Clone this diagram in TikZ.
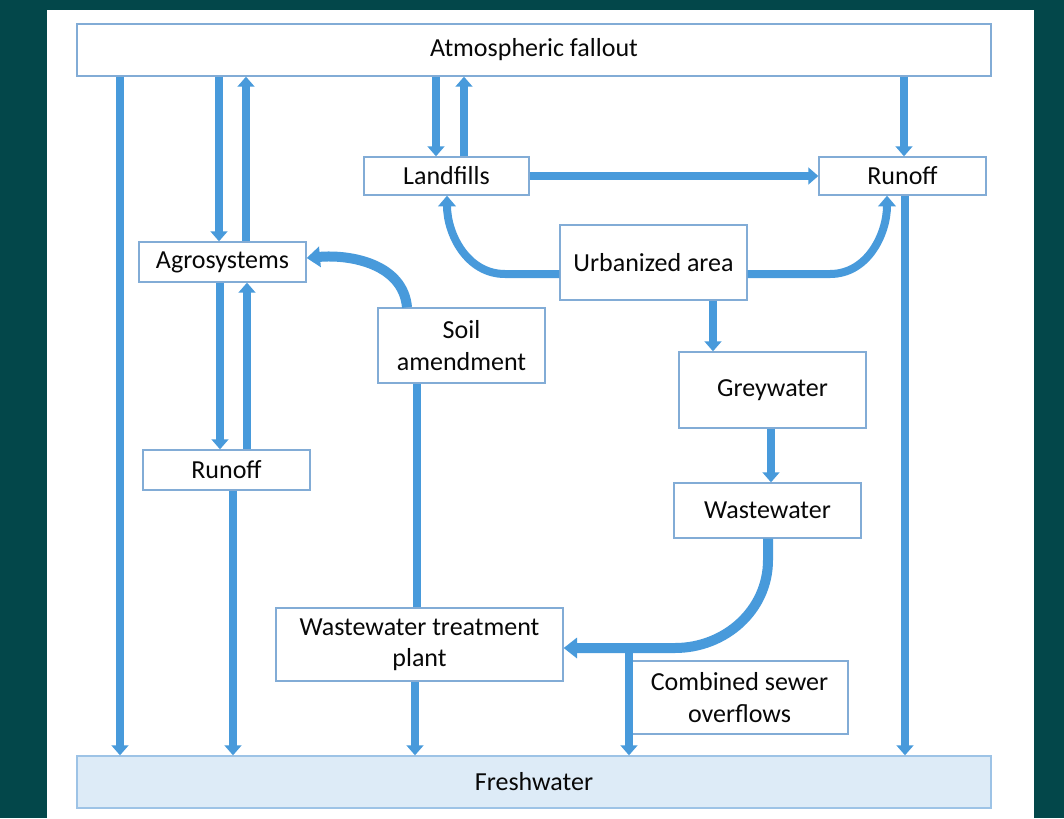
\documentclass[tikz,border=0pt]{standalone}
\usepackage{fontspec}
\setmainfont{Carlito}
\usetikzlibrary{arrows.meta}
\definecolor{teal0}{RGB}{3,71,74}
\definecolor{flowc}{RGB}{72,154,219}
\definecolor{boxc}{RGB}{130,172,214}
\definecolor{freshfill}{RGB}{221,235,247}
\definecolor{freshdraw}{RGB}{157,195,230}
\definecolor{textc}{RGB}{8,8,8}
\tikzset{
  box/.style={draw=boxc, line width=1pt, fill=white, inner sep=0pt, align=center,
    font=\fontsize{19.5}{23.4}\selectfont, text=textc},
  flow/.style={draw=flowc, line width=5.5pt, -{Triangle[width=12.5pt,length=7.5pt]}},
  flowline/.style={draw=flowc, line width=5.5pt},
  bigflow/.style={draw=flowc, line width=7.5pt, -{Triangle[width=15pt,length=10pt]}},
  midflow/.style={draw=flowc, line width=6pt, -{Triangle[width=13pt,length=8pt]}}
}
\begin{document}
\begin{tikzpicture}[x=0.75pt,y=-0.75pt]
\useasboundingbox (0,0) rectangle (1064,818);
\fill[teal0] (0,0) rectangle (1064,818);
\fill[white] (47,10) rectangle (1034,818);

% nodes
\node[box, minimum width=685.5pt, minimum height=39pt] (atm) at (534,50) {Atmospheric fallout};
\node[box, fill=freshfill, draw=freshdraw, minimum width=685.5pt, minimum height=39pt] (fresh) at (534,782) {Freshwater};
\node[box, minimum width=123.75pt, minimum height=28.5pt] (land) at (446.5,176) {Landfills};
\node[box, minimum width=125.25pt, minimum height=28.5pt] (runR) at (902.5,176) {Runoff};
\node[box, minimum width=140.25pt, minimum height=56.25pt] (urb) at (653.5,262.5) {Urbanized area};
\node[box, minimum width=125.25pt, minimum height=30pt] (agro) at (222.5,262) {Agrosystems};
\node[box, minimum width=125.25pt, minimum height=30pt] (runL) at (226.5,470) {Runoff};
\node[box, minimum width=125.25pt, minimum height=56.25pt] (soil) at (461.5,345.5) {Soil\\amendment};
\node[box, minimum width=140.25pt, minimum height=57pt] (grey) at (772.5,390) {Greywater};
\node[box, minimum width=140.25pt, minimum height=41.25pt] (waste) at (767.5,510.5) {Wastewater};
\node[box, minimum width=215.25pt, minimum height=54.75pt] (wwtp) at (419.5,644.5) {Wastewater treatment\\plant};
\node[box, minimum width=162.75pt, minimum height=54.75pt] (cso) at (739.5,697.5) {Combined sewer\\overflows};

% connectors from atmospheric fallout
\draw[flow] (120,0 |- atm.south) -- (120,0 |- fresh.north);
\draw[flow] (219,0 |- atm.south) -- (219,0 |- agro.north);
\draw[flow] (246,0 |- agro.north) -- (246,0 |- atm.south);
\draw[flow] (436,0 |- atm.south) -- (436,0 |- land.north);
\draw[flow] (464,0 |- land.north) -- (464,0 |- atm.south);
\draw[flow] (904,0 |- atm.south) -- (904,0 |- runR.north);

% landfills to runoff
\draw[flow] (land.east) -- (runR.west);
\draw[flow] (905,0 |- runR.south) -- (905,0 |- fresh.north);

% urbanized area
\draw[midflow] (urb.west |- 0,274) -- (505,274) to[out=180,in=-90] (447,0 |- land.south);
\draw[midflow] (urb.east |- 0,274) -- (830,274) to[out=0,in=-90] (887,0 |- runR.south);
\draw[flow] (713,0 |- urb.south) -- (713,0 |- grey.north);
\draw[flow] (771,0 |- grey.south) -- (771,0 |- waste.north);

% wastewater to WWTP
\coordinate (split) at (629,648);
\draw[bigflow] (768,0 |- waste.south) -- (768,560) to[out=-90,in=0] (675,648) -- (wwtp.east |- 0,648);
\draw[flow] (split) -- (629,0 |- fresh.north);

% WWTP
\draw[flowline] (417,0 |- wwtp.north) -- (417,0 |- soil.south);
\draw[flow] (415,0 |- wwtp.south) -- (415,0 |- fresh.north);
\draw[bigflow] (407,0 |- soil.north) to[out=95,in=5] (agro.east |- 0,258);

% agrosystems / runoff
\draw[flow] (220,0 |- agro.south) -- (220,0 |- runL.north);
\draw[flow] (247,0 |- runL.north) -- (247,0 |- agro.south);
\draw[flow] (233,0 |- runL.south) -- (233,0 |- fresh.north);
\end{tikzpicture}
\end{document}
